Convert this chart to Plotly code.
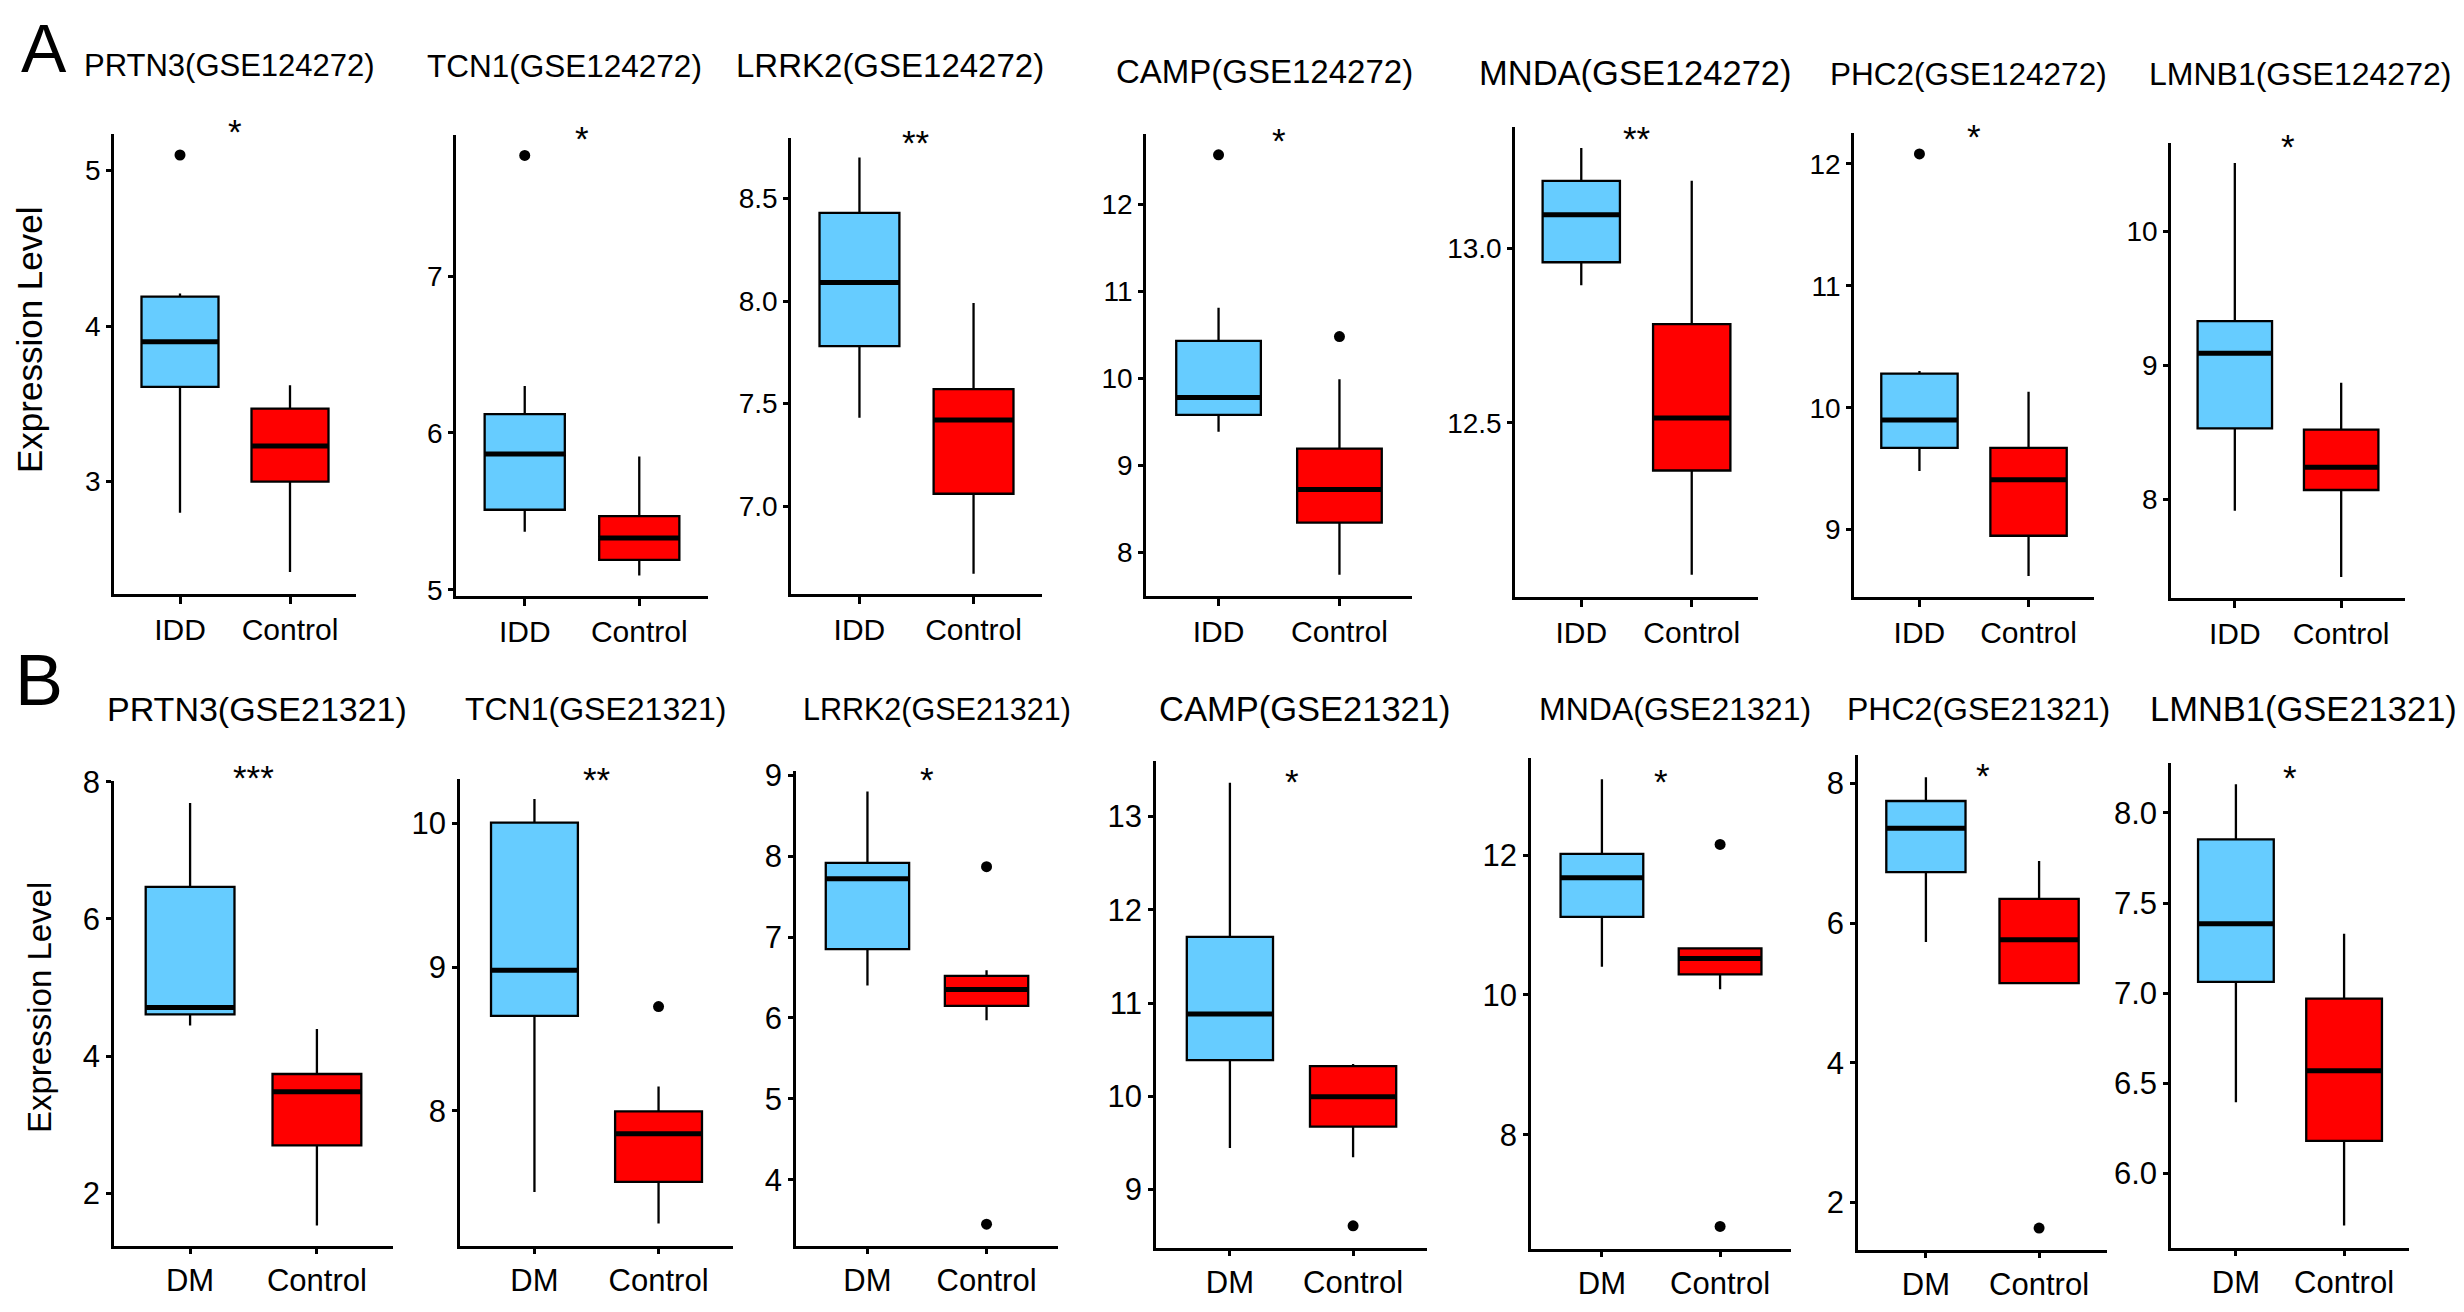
import plotly.graph_objects as go

# the page body keeps its default 8px margin, so the figure is drawn 8px in
# and made 16px smaller to fill the 2464x1312 window exactly
W, H = 2464, 1312
PAGE_PAD = 8
FIG_W, FIG_H = W - 2 * PAGE_PAD, H - 2 * PAGE_PAD
FONT = "Liberation Sans, Arial, sans-serif"
BLUE = "#66CCFF"
RED = "#FF0000"

GENES = ["PRTN3", "TCN1", "LRRK2", "CAMP", "MNDA", "PHC2", "LMNB1"]

# ---- row A: GSE124272, IDD vs Control ----
A_SET, A_CASE = "GSE124272", "IDD"
A_CASE_LO = [2.80, 5.37, 7.43, 9.385, 12.894, 9.48, 7.915]
A_CASE_Q1 = [3.61, 5.51, 7.78, 9.58, 12.96, 9.67, 8.53]
A_CASE_MED = [3.90, 5.865, 8.09, 9.78, 13.096, 9.90, 9.09]
A_CASE_Q3 = [4.19, 6.12, 8.43, 10.43, 13.193, 10.28, 9.33]
A_CASE_HI = [4.21, 6.30, 8.70, 10.81, 13.287, 10.30, 10.51]
A_CASE_OUT = [[5.10], [7.77], [], [12.57], [], [12.08], []]
A_CTRL_LO = [2.42, 5.09, 6.67, 7.74, 12.066, 8.62, 7.42]
A_CTRL_Q1 = [3.00, 5.19, 7.06, 8.34, 12.364, 8.95, 8.07]
A_CTRL_MED = [3.23, 5.33, 7.42, 8.72, 12.514, 9.41, 8.24]
A_CTRL_Q3 = [3.47, 5.47, 7.57, 9.19, 12.783, 9.67, 8.52]
A_CTRL_HI = [3.62, 5.85, 7.99, 9.99, 13.193, 10.13, 8.87]
A_CTRL_OUT = [[], [], [], [10.48], [], [], []]
A_STARS = ["*", "*", "**", "*", "**", "*", "*"]
A_YRANGE = [[2.278, 5.235], [4.96, 7.90], [6.571, 8.795], [7.496, 12.809],
            [12.002, 13.347], [8.448, 12.252], [7.264, 10.66]]
A_YTICKS = [[3, 4, 5], [5, 6, 7], [7.0, 7.5, 8.0, 8.5], [8, 9, 10, 11, 12],
            [12.5, 13.0], [9, 10, 11, 12], [8, 9, 10]]

# ---- row B: GSE21321, DM vs Control ----
B_SET, B_CASE = "GSE21321", "DM"
B_CASE_LO = [4.445, 7.435, 6.40, 9.447, 10.405, 5.73, 6.395]
B_CASE_Q1 = [4.61, 8.661, 6.85, 10.388, 11.117, 6.73, 7.063]
B_CASE_MED = [4.71, 8.979, 7.72, 10.881, 11.677, 7.36, 7.385]
B_CASE_Q3 = [6.466, 10.006, 7.916, 11.708, 12.018, 7.75, 7.853]
B_CASE_HI = [7.688, 10.17, 8.80, 13.361, 13.084, 8.09, 8.159]
B_CASE_OUT = [[], [], [], [], [], [], []]
B_CTRL_LO = [1.53, 7.217, 5.97, 9.347, 10.082, 5.14, 5.711]
B_CTRL_Q1 = [2.70, 7.506, 6.15, 9.676, 10.295, 5.14, 6.18]
B_CTRL_MED = [3.48, 7.842, 6.35, 9.995, 10.52, 5.76, 6.57]
B_CTRL_Q3 = [3.74, 7.997, 6.52, 10.324, 10.667, 6.346, 6.97]
B_CTRL_HI = [4.395, 8.17, 6.59, 10.347, 10.68, 6.89, 7.33]
B_CTRL_OUT = [[], [8.726], [7.87, 3.45], [8.612], [12.152, 6.69], [1.63], []]
B_STARS = ["***", "**", "*", "*", "*", "*", "*"]
B_YRANGE = [[1.233, 8.01], [7.06, 10.31], [3.18, 9.053], [8.374, 13.594],
            [6.368, 13.388], [1.316, 8.409], [5.586, 8.277]]
B_YTICKS = [[2, 4, 6, 8], [8, 9, 10], [4, 5, 6, 7, 8, 9], [9, 10, 11, 12, 13],
            [8, 10, 12], [2, 4, 6, 8], [6.0, 6.5, 7.0, 7.5, 8.0]]

# panel frames in window pixels: (left, right, top, bottom) of the axis lines
A_BOX = [(114, 356, 134, 594), (456, 708, 135, 596), (791, 1042, 138, 594),
         (1146, 1412, 134, 596), (1515, 1758, 127, 597), (1854, 2094, 133, 597),
         (2171, 2405, 143, 598)]
B_BOX = [(114, 393, 781, 1246), (460, 733, 779, 1246), (796, 1058, 771, 1246),
         (1156, 1427, 761, 1248), (1531, 1791, 758, 1249), (1858, 2107, 755, 1250),
         (2171, 2409, 763, 1248)]
A_TITLE_XY = [(229, 66), (564, 66), (890, 66), (1265, 71), (1635, 73), (1968, 74), (2300, 74)]
B_TITLE_XY = [(257, 709), (595, 709), (937, 709), (1304, 709), (1675, 709), (1978, 709), (2303, 709)]
A_TITLE_SIZE = [31, 31.5, 33, 33, 34.5, 31.5, 32]
B_TITLE_SIZE = [34, 32, 30.5, 34.5, 32, 32, 34.5]
A_STAR_Y = [127, 134, 139, 137, 134, 133, 143]
B_STAR_Y = [773, 775, 775, 777, 777, 771, 773]

rows = [
    dict(dataset=A_SET, case=A_CASE,
         case_stats=(A_CASE_LO, A_CASE_Q1, A_CASE_MED, A_CASE_Q3, A_CASE_HI), case_out=A_CASE_OUT,
         ctrl_stats=(A_CTRL_LO, A_CTRL_Q1, A_CTRL_MED, A_CTRL_Q3, A_CTRL_HI), ctrl_out=A_CTRL_OUT,
         stars=A_STARS, yrange=A_YRANGE, yticks=A_YTICKS, boxes=A_BOX, titles=A_TITLE_XY,
         title_size=A_TITLE_SIZE, star_y=A_STAR_Y, tick_size=28, xtick_size=30, xticklen=7),
    dict(dataset=B_SET, case=B_CASE,
         case_stats=(B_CASE_LO, B_CASE_Q1, B_CASE_MED, B_CASE_Q3, B_CASE_HI), case_out=B_CASE_OUT,
         ctrl_stats=(B_CTRL_LO, B_CTRL_Q1, B_CTRL_MED, B_CTRL_Q3, B_CTRL_HI), ctrl_out=B_CTRL_OUT,
         stars=B_STARS, yrange=B_YRANGE, yticks=B_YTICKS, boxes=B_BOX, titles=B_TITLE_XY,
         title_size=B_TITLE_SIZE, star_y=B_STAR_Y, tick_size=31, xtick_size=31, xticklen=5),
]


def px(x):
    return (x - PAGE_PAD) / FIG_W


def py(y):
    return 1 - (y - PAGE_PAD) / FIG_H


def text_note(text, x, y, size, **kw):
    return dict(text=text, x=px(x), y=py(y), xref="paper", yref="paper",
                xanchor="center", yanchor="middle", showarrow=False,
                font=dict(size=size), **kw)


def add_box(fig, xref, yref, pos, stats, fill):
    lo, q1, med, q3, hi = stats
    common = dict(x=[pos], width=0.7, whiskerwidth=0, boxpoints=False,
                  xaxis=xref, yaxis=yref, showlegend=False, hoverinfo="skip")
    fig.add_trace(go.Box(lowerfence=[lo], q1=[q1], median=[med], q3=[q3], upperfence=[hi],
                         fillcolor=fill, line=dict(color="black", width=2.3), **common))
    # thicker median bar, ggplot style
    fig.add_trace(go.Box(lowerfence=[med], q1=[med], median=[med], q3=[med], upperfence=[med],
                         fillcolor="rgba(0,0,0,0)", line=dict(color="black", width=5), **common))


fig = go.Figure()
layout = dict(width=FIG_W, height=FIG_H,
              margin=dict(l=0, r=0, t=0, b=0, pad=0, autoexpand=False),
              paper_bgcolor="white", plot_bgcolor="white", boxmode="overlay",
              font=dict(family=FONT, color="black"), annotations=[])

n = 0
for row in rows:
    for g in range(len(GENES)):
        n += 1
        xr = "x" if n == 1 else f"x{n}"
        yr = "y" if n == 1 else f"y{n}"
        xa = "xaxis" if n == 1 else f"xaxis{n}"
        ya = "yaxis" if n == 1 else f"yaxis{n}"
        left, right, top, bottom = row["boxes"][g]

        add_box(fig, xr, yr, 1, [s[g] for s in row["case_stats"]], BLUE)
        add_box(fig, xr, yr, 2, [s[g] for s in row["ctrl_stats"]], RED)
        for pos, outs in ((1, row["case_out"][g]), (2, row["ctrl_out"][g])):
            if outs:
                fig.add_trace(go.Scatter(x=[pos] * len(outs), y=outs, mode="markers",
                                         marker=dict(color="black", size=11),
                                         xaxis=xr, yaxis=yr, showlegend=False,
                                         hoverinfo="skip", cliponaxis=False))

        ticks = row["yticks"][g]
        fmt = ".1f" if any(t != int(t) for t in ticks) else "d"
        axis_common = dict(showline=True, linecolor="black", linewidth=2.5, ticks="outside",
                           tickwidth=2.5, tickcolor="black", showgrid=False, zeroline=False,
                           fixedrange=True, automargin=False)
        layout[xa] = dict(domain=[px(left), px(right)], anchor=yr, range=[0.4, 2.6],
                          tickmode="array", tickvals=[1, 2],
                          ticktext=[row["case"], "Control"], ticklen=row["xticklen"],
                          tickfont=dict(size=row["xtick_size"]), **axis_common)
        layout[ya] = dict(domain=[py(bottom), py(top)], anchor=xr, range=row["yrange"][g],
                          tickmode="array", tickvals=ticks, tickformat=fmt, ticklen=5,
                          tickfont=dict(size=row["tick_size"]), **axis_common)

        tx, ty = row["titles"][g]
        layout["annotations"].append(text_note(f"{GENES[g]}({row['dataset']})", tx, ty,
                                               row["title_size"][g]))
        layout["annotations"].append(dict(
            text=row["stars"][g], x=1.5, xref=xr, y=py(row["star_y"][g] + 4), yref="paper",
            xanchor="center", yanchor="middle", showarrow=False, font=dict(size=35)))

# y-axis titles and panel letters
layout["annotations"].append(text_note("Expression Level", 29, 340, 35, textangle=-90))
layout["annotations"].append(text_note("Expression Level", 39, 1008, 33, textangle=-90))
layout["annotations"].append(text_note("A", 44, 48, 68))
layout["annotations"].append(text_note("B", 39, 680, 72))

fig.update_layout(**layout)
fig.write_html("out.html")
